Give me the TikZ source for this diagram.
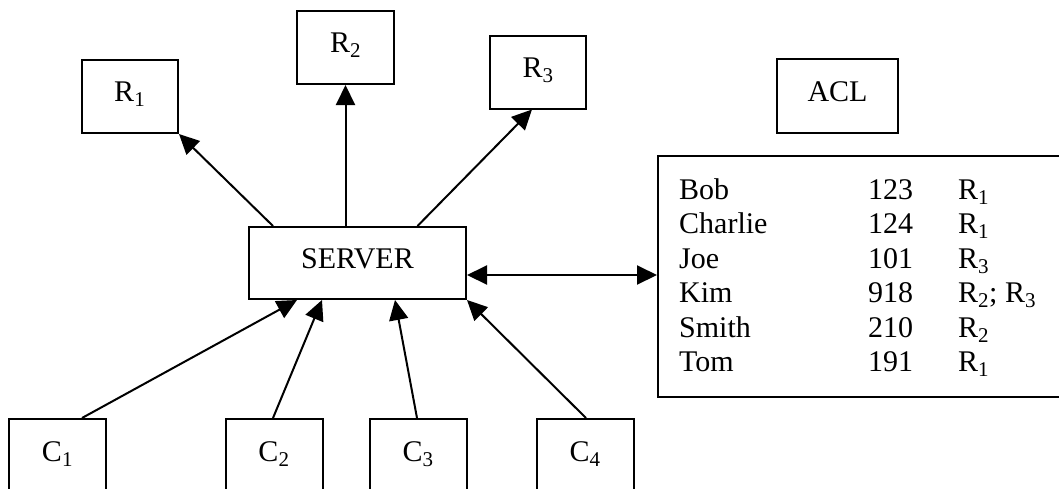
\documentclass[tikz,border=0pt]{standalone}
\usepackage{fontspec}
\setmainfont{Liberation Serif}
\usetikzlibrary{arrows.meta}

\begin{document}
\begin{tikzpicture}[x=1pt, y=-1pt,
    every node/.style={font=\fontsize{30}{34.5}\selectfont},
    box/.style={draw, line width=2pt, inner sep=0pt,
                text height=20pt, text depth=10pt},
    link/.style={line width=2pt, -{Triangle[length=20pt,width=19pt]}},
    dlink/.style={line width=2pt, {Triangle[length=20pt,width=19pt]}-{Triangle[length=20pt,width=19pt]}}]
  \useasboundingbox (0,0) rectangle (1059,488);

  % resources
  \node (r1) [box, minimum width=96.5pt, minimum height=73.5pt] at (129.75,96.25) {R\textsubscript{1}};
  \node (r2) [box, minimum width=97pt, minimum height=73pt] at (345.5,47.5) {R\textsubscript{2}};
  \node (r3) [box, minimum width=96pt, minimum height=73pt] at (538,72) {R\textsubscript{3}};

  % server
  \node (server) [box, minimum width=217pt, minimum height=72pt] at (357.5,263) {SERVER};

  % clients
  \node (c1) [box, minimum width=97pt, minimum height=74pt] at (57.5,456) {C\textsubscript{1}};
  \node (c2) [box, minimum width=97pt, minimum height=74pt] at (274,456) {C\textsubscript{2}};
  \node (c3) [box, minimum width=97pt, minimum height=74pt] at (418,456) {C\textsubscript{3}};
  \node (c4) [box, minimum width=97pt, minimum height=74pt] at (585,456) {C\textsubscript{4}};

  % access control list
  \node (acl) [box, minimum width=121pt, minimum height=74pt] at (837.5,96) {ACL};
  \node (acltab) [draw, line width=2pt, inner sep=0pt, anchor=north west,
                  minimum width=420pt, minimum height=241pt] at (657,155) {};
  \node (entries) [anchor=base west, inner sep=0pt] at (679,199) {%
    \begin{tabular}[t]{@{}p{189pt}@{}p{90pt}@{}l@{}}
      Bob     & 123 & R\textsubscript{1}\\
      Charlie & 124 & R\textsubscript{1}\\
      Joe     & 101 & R\textsubscript{3}\\
      Kim     & 918 & R\textsubscript{2}; R\textsubscript{3}\\
      Smith   & 210 & R\textsubscript{2}\\
      Tom     & 191 & R\textsubscript{1}
    \end{tabular}};

  % server to resources
  \draw[link] ([xshift=-84.5pt]server.north) -- (r1.south east);
  \draw[link] ([xshift=-12pt]server.north) -- (r2.south);
  \draw[link] ([xshift=60pt]server.north) -- ([xshift=-6pt]r3.south);

  % clients to server
  \draw[link] ([xshift=24.5pt]c1.north) -- ([xshift=-60.5pt]server.south);
  \draw[link] ([xshift=-1pt]c2.north) -- ([xshift=-35.5pt]server.south);
  \draw[link] ([xshift=-1pt]c3.north) -- ([xshift=37.5pt]server.south);
  \draw[link] ([xshift=1pt]c4.north) -- (server.south east);

  % server and access control list
  \coordinate (dbl) at ([yshift=-12pt]server.east);
  \draw[dlink] (dbl) -- (dbl -| acltab.west);
\end{tikzpicture}
\end{document}
